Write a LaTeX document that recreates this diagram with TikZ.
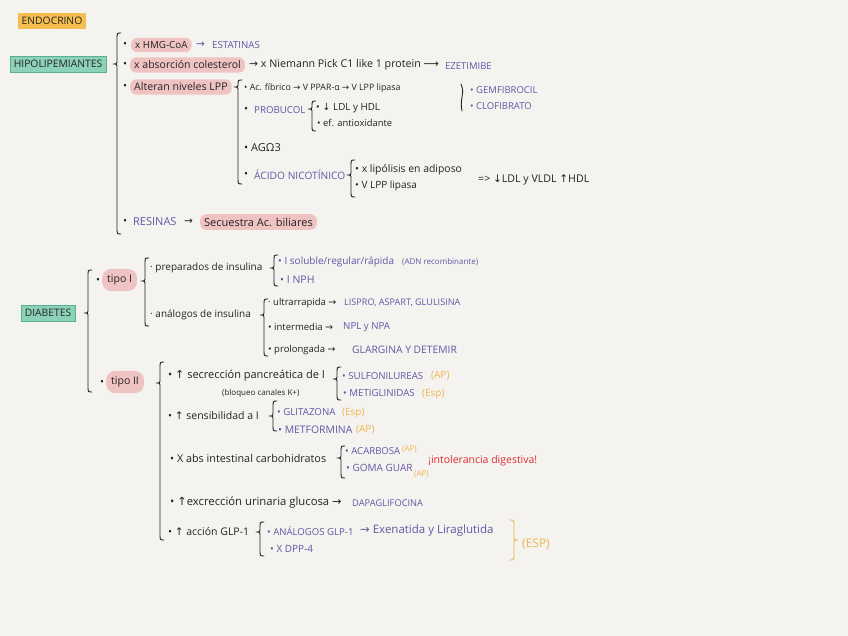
\documentclass[tikz,border=0pt]{standalone}
\usepackage{fontspec}
\setmainfont{Open Sans}
\newfontfamily\symf{DejaVu Sans}
\definecolor{bg}{RGB}{244,243,239}
\definecolor{ink}{RGB}{35,35,35}
\definecolor{purp}{RGB}{100,85,165}
\definecolor{pinkhl}{RGB}{240,195,195}
\definecolor{orhl}{RGB}{245,190,80}
\definecolor{orink}{RGB}{240,180,80}
\definecolor{grhl}{RGB}{140,210,185}
\definecolor{grline}{RGB}{90,175,145}
\definecolor{redink}{RGB}{220,45,50}
\newcommand{\myar}{{\symf →}}
\newcommand{\mylar}{{\symf ⟶}}
\newcommand{\myup}{{\symf ↑}}
\newcommand{\mydn}{{\symf ↓}}
\tikzset{
 fsz/.style={font=\fontsize{#1}{#1}\selectfont},
 txt/.style={anchor=west, inner sep=0pt, text=ink, fsz=10.5},
 sml/.style={txt, fsz=8},
 capt/.style={txt, text=purp, fsz=9.7},
 ptx/.style={txt, text=purp},
 orn/.style={txt, text=orink, fsz=10},
 hl/.style={fill=pinkhl, rounded corners=6pt, inner xsep=4pt, inner ysep=3.5pt},
 blob/.style={fill=pinkhl, rounded corners=9pt, inner xsep=5pt, inner ysep=6pt},
 titlebox/.style={anchor=center, inner xsep=4pt, inner ysep=4.5pt, text=ink, fsz=10.3},
 brc/.style={draw=ink, line width=0.9pt, line cap=round, line join=round},
}
\newcommand{\mybrace}[4]{% x, ytop, ytip, ybot
 \draw[brc] ({#1+4},#2) .. controls ({#1},#2) .. ({#1},{#2+6}) -- ({#1},{#3-4}) .. controls ({#1},{#3}) .. ({#1-4},{#3}) .. controls ({#1},{#3}) .. ({#1},{#3+4}) -- ({#1},{#4-6}) .. controls ({#1},{#4}) .. ({#1+4},#4);}
\begin{document}
\begin{tikzpicture}[x=1pt,y=-1pt]
\fill[bg] (0,0) rectangle (848,636);
\useasboundingbox (0,0) rectangle (848,636);

% titles
\node[titlebox, fill=orhl] (endo) at (52,21) {ENDOCRINO};
\node[titlebox, fill=grhl, draw=grline] (hipo) at (58,64) {HIPOLIPEMIANTES};

\mybrace{117}{33}{64}{234}

% row 1
\node[txt] (b1) at (123,45) {•};
\node[txt, hl, fsz=9.8] (h1) at (131,45) {x HMG-CoA};
\node[txt, text=purp] (a1) at (196,45) {\myar};
\node[capt] (estat) at (212,45) {ESTATINAS};

% row 2
\node[txt] (b2) at (123,65) {•};
\node[txt, hl, fsz=10.5] (h2) at (130,65) {x absorción colesterol};
\node[txt, fsz=10.7] (nie) at (249,65) {\myar\ x Niemann Pick C1 like 1 protein \mylar};
\node[capt, fsz=9.5] (ezet) at (445,66) {EZETIMIBE};

% row 3
\node[txt] (b3) at (123,87) {•};
\node[txt, hl, fsz=10.6] (h3) at (130,87) {Alteran niveles LPP};
\mybrace{238}{80}{87}{184}
\node[txt, fsz=8.8] (fib) at (244,88) {• Ac. fíbrico \myar\ V PPAR-α \myar\ V LPP lipasa};
\draw[brc] (461,84) .. controls (463,90) .. (462,97) .. controls (461,104) .. (462,111);
\node[capt, fsz=9.5] (gem) at (470,90) {• GEMFIBROCIL};
\node[capt, fsz=9.5] (clo) at (470,106) {• CLOFIBRATO};

\node[txt] (b4) at (244,110) {•};
\node[capt] (prob) at (254,110) {PROBUCOL};
\mybrace{312}{101}{109}{131}
\node[txt, fsz=9.8] (ldl) at (316,108) {• \mydn\ LDL y HDL};
\node[txt, fsz=9.4] (anti) at (317,123) {• ef. antioxidante};

\node[txt, fsz=11] (ag) at (244,148) {• AGΩ3};

\node[txt] (b5) at (244,175) {•};
\node[capt, fsz=10.2] (nico) at (254,175) {ÁCIDO NICOTÍNICO};
\mybrace{351}{160}{175}{197}
\node[txt, fsz=10.4] (lipo) at (355,170) {• x lipólisis en adiposo};
\node[txt, fsz=10] (lpp) at (355,186) {• V LPP lipasa};
\node[txt, fsz=10.6] (res1) at (478,180) {=> \mydn LDL y VLDL \myup HDL};

% resinas
\node[txt] (b6) at (123,222) {•};
\node[capt, fsz=11] (resi) at (133,222) {RESINAS};
\node[txt] (a6) at (184,222) {\myar};
\node[txt, hl, fsz=11] (h6) at (200,222) {Secuestra Ac. biliares};

% DIABETES
\node[titlebox, fill=grhl, draw=grline] (diab) at (48,313) {DIABETES};
\mybrace{88}{270}{313}{392}

\node[txt] (b7) at (96,281) {•};
\node[txt, blob] (t1) at (102,280) {tipo I};
\mybrace{145}{258}{281}{326}
\node[txt, fsz=10] (prep) at (150,268) {· preparados de insulina};
\mybrace{274}{255}{268}{286}
\node[ptx, fsz=10] (sol) at (278,262) {• I soluble/regular/rápida};
\node[ptx, fsz=8] (adn) at (402,262) {(ADN recombinante)};
\node[ptx] (nph) at (280,280) {• I NPH};

\node[txt, fsz=10] (anal) at (150,315) {· análogos de insulina};
\mybrace{264}{299}{315}{356}
\node[txt, fsz=9.5] (ultra) at (268,303) {· ultrarrapida \myar};
\node[capt, fsz=9.1] (lis) at (344,303) {LISPRO, ASPART, GLULISINA};
\node[txt, fsz=9.5] (inter) at (268,327) {• intermedia \myar};
\node[capt] (npl) at (343,327) {NPL y NPA};
\node[txt, fsz=9.5] (prol) at (268,350) {• prolongada \myar};
\node[capt, fsz=10.3] (glar) at (352,350) {GLARGINA Y DETEMIR};

\node[txt] (b8) at (100,383) {•};
\node[txt, blob] (t2) at (106,382) {tipo II};
\mybrace{160}{362}{383}{540}

\node[txt, fsz=11] (secr) at (168,376) {• \myup\ secrección pancreática de I};
\node[sml] (bloq) at (222,393) {(bloqueo canales K+)};
\mybrace{337}{367}{379}{400}
\node[capt] (sulf) at (342,376) {• SULFONILUREAS};
\node[orn] (sulfo) at (431,376) {(AP)};
\node[capt] (meti) at (343,393) {• METIGLINIDAS};
\node[orn] (metio) at (422,394) {(Esp)};

\node[txt] (sens) at (168,416) {• \myup\ sensibilidad a I};
\mybrace{273}{401}{416}{431}
\node[capt] (glit) at (277,412) {• GLITAZONA};
\node[orn] (glito) at (342,413) {(Esp)};
\node[capt, fsz=10.4] (metf) at (278,430) {• METFORMINA};
\node[orn] (metfo) at (356,430) {(AP)};

\node[txt, fsz=10.8] (abs) at (170,458) {• X abs intestinal carbohidratos};
\mybrace{341}{446}{458}{478}
\node[capt, fsz=9.6] (acar) at (345,451) {• ACARBOSA};
\node[orn, fsz=8] (acaro) at (402,449) {(AP)};
\node[capt, fsz=10] (goma) at (346,468) {• GOMA GUAR};
\node[orn, fsz=8] (gomao) at (414,474) {(AP)};
\node[txt, text=redink, fsz=10.5] (into) at (428,461) {¡intolerancia digestiva!};

\node[txt, fsz=11.3] (excr) at (170,503) {• \myup excrección urinaria glucosa \myar};
\node[capt, fsz=9.3] (dapa) at (352,503) {DAPAGLIFOCINA};

\node[txt] (glp) at (168,532) {• \myup\ acción GLP-1};
\mybrace{260}{522}{532}{556}
\node[capt, fsz=9.6] (anglp) at (267,531) {• ANÁLOGOS GLP-1};
\node[ptx, fsz=11.5] (exen) at (360,531) {\myar\ Exenatida y Liraglutida};
\node[capt, fsz=10] (dpp) at (270,549) {• X DPP-4};
\draw[brc, draw=orink] (510,520) .. controls (514,520) .. (514,526) -- (514,536) .. controls (514,540) .. (518,540) .. controls (514,540) .. (514,544) -- (514,554) .. controls (514,560) .. (510,560);
\node[orn, fsz=12] (esp) at (522,544) {(ESP)};
\end{tikzpicture}
\end{document}
